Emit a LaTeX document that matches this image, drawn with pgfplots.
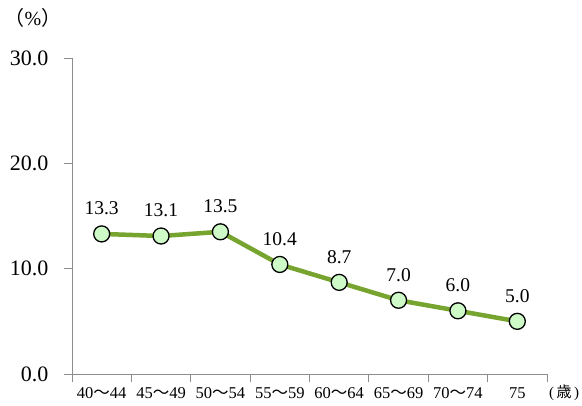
\documentclass[border=0pt]{standalone}
\usepackage{pgfplots}
\pgfplotsset{compat=1.18}
\usepackage{fontspec}
\setmainfont{Liberation Serif}
\newfontfamily\cjk{Noto Sans CJK JP}
\definecolor{linegreen}{RGB}{118,164,46}
\definecolor{markfill}{RGB}{206,250,200}
\definecolor{axisgray}{RGB}{140,140,140}
\newcommand{\nami}{{\cjk 〜}}
\begin{document}
\begin{tikzpicture}[x=1pt,y=1pt]
\path[use as bounding box] (-72,-31) rectangle (510,374);
\begin{axis}[
  at={(0,0)}, anchor=south west,
  scale only axis, width=475pt, height=316pt,
  xmin=-0.5, xmax=7.5, ymin=0, ymax=30,
  axis x line*=bottom, axis y line*=left,
  axis line style={axisgray, line width=0.8pt},
  every tick/.style={axisgray, line width=0.8pt},
  tick align=outside, major tick length=8pt,
  xtick={-0.5,0.5,...,7.5},
  x tick label as interval,
  xticklabels={40\nami44,45\nami49,50\nami54,55\nami59,60\nami64,65\nami69,70\nami74,75},
  xticklabel style={font=\fontsize{16.5}{16.5}\selectfont, yshift=-2pt},
  ytick={0,10,20,30},
  yticklabel style={font=\fontsize{22}{22}\selectfont, /pgf/number format/fixed, /pgf/number format/fixed zerofill, /pgf/number format/precision=1, /pgf/number format/assume math mode=true},
  yticklabel shift=12pt,
  nodes near coords,
  nodes near coords style={black, font=\fontsize{19.5}{19.5}\selectfont, /pgf/number format/fixed, /pgf/number format/fixed zerofill, /pgf/number format/precision=1, /pgf/number format/assume math mode=true, anchor=south, yshift=15pt},
  clip=false,
]
\addplot[linegreen, line width=4.5pt, mark=*, mark size=8pt,
  mark options={fill=markfill, draw=black, line width=1.3pt}]
  coordinates {(0,13.3) (1,13.1) (2,13.5) (3,10.4) (4,8.7) (5,7.0) (6,6.0) (7,5.0)};
\end{axis}
\node[font=\fontsize{20}{20}\selectfont, inner sep=0pt] at (-39,356) {{\cjk （}\%{\cjk ）}};
\node[font=\fontsize{15}{15}\selectfont, inner sep=0pt] at (492,-19) {(\,{\cjk 歳}\,)};
\end{tikzpicture}
\end{document}
